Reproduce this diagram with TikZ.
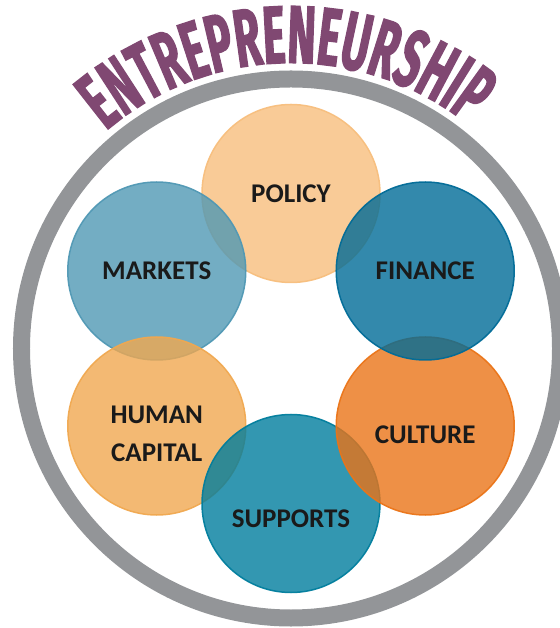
\documentclass[tikz,border=0pt]{standalone}
\usepackage{fontspec}
\usepackage{tikz}
\usetikzlibrary{decorations.text}
\usepackage{xcolor}
\definecolor{titlepurple}{RGB}{128,72,114}
\definecolor{ringgray}{RGB}{147,149,152}
\definecolor{ink}{RGB}{26,26,26}
\definecolor{policycol}{RGB}{247,190,125}
\definecolor{marketscol}{RGB}{80,152,180}
\definecolor{financecol}{RGB}{0,107,151}
\definecolor{humancol}{RGB}{240,168,80}
\definecolor{culturecol}{RGB}{234,116,24}
\definecolor{supportscol}{RGB}{0,125,157}
\newfontfamily\labelfont{Carlito}
\newfontfamily\titlefont[FakeStretch=0.52,FakeBold=1.5]{Fira Sans}

\begin{document}
\begin{tikzpicture}[x=1pt,y=1pt,
        ball/.style={circle,minimum size=178pt,line width=1.5pt,draw=#1,fill=#1,fill opacity=0.8,draw opacity=0.95,text opacity=1},
        every label/.style={font=\labelfont\bfseries\fontsize{27}{38}\selectfont,text=ink,align=center,fill opacity=1,text opacity=1}]
        \useasboundingbox (-291,-279.5) rectangle (268,348.5);

        % Outer ring
        \draw[ringgray,line width=17pt] (0,0) circle[radius=269.5];

        % Title
        \path[decorate,decoration={text along path,text align=center,text color=titlepurple,
            text={|\titlefont\bfseries\fontsize{82}{82}\selectfont|ENTREPRENEURSHIP}}]
            (0,0) ++(137:285.5) arc[start angle=137,end angle=45,radius=285.5];

        % Circle 1
        \node[ball=policycol,label={center:POLICY}] (policy) at (90:155) {};

        % Circle 2
        \node[ball=marketscol,label={center:MARKETS}] (markets) at (150:155) {};

        % Circle 3
        \node[ball=humancol,label={[yshift=-8pt]center:HUMAN\\CAPITAL}] (humancapital) at (210:155) {};

        % Circle 4
        \node[ball=supportscol,label={[yshift=-15pt]center:SUPPORTS}] (supports) at (270:155) {};

        % Circle 5
        \node[ball=culturecol,label={[yshift=-9pt]center:CULTURE}] (culture) at (330:155) {};

        % Circle 6
        \node[ball=financecol,label={center:FINANCE}] (finance) at (30:155) {};
    \end{tikzpicture}
\end{document}
